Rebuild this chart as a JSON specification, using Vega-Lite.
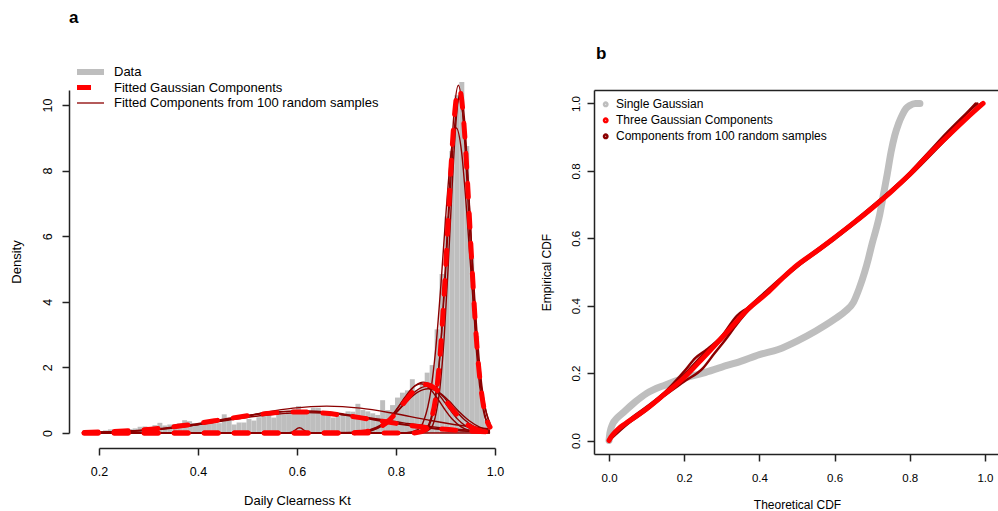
{
"$schema": "https://vega.github.io/schema/vega-lite/v6.json",
"background": "white",
"padding": {"left": 10, "top": 8, "right": 0, "bottom": 0},
"config": {
  "view": {"stroke": null},
  "font": "Liberation Sans",
  "axis": {"grid": false, "domain": true, "domainColor": "#222222", "domainWidth": 1.5, "domainOpacity": 1, "ticks": true, "tickColor": "#222222", "tickWidth": 1.5, "tickOpacity": 1, "labelColor": "#000", "titleColor": "#000", "titleFontWeight": "normal", "tickSize": 7, "labelFlush": false, "labelOverlap": false, "labelBound": false},
  "legend": {"labelColor": "#000", "labelLimit": 0},
  "title": {"color": "#000"}
},
"datasets": {
  "hist": [
    {"x":0.168,"xe":0.178,"y":0.02},{"x":0.178,"xe":0.188,"y":0.03},{"x":0.188,"xe":0.198,"y":0.04},{"x":0.198,"xe":0.208,"y":0.05},
    {"x":0.208,"xe":0.218,"y":0.08},{"x":0.218,"xe":0.228,"y":0.11},{"x":0.228,"xe":0.238,"y":0.07},{"x":0.238,"xe":0.248,"y":0.08},
    {"x":0.248,"xe":0.258,"y":0.10},{"x":0.258,"xe":0.268,"y":0.12},{"x":0.268,"xe":0.278,"y":0.14},{"x":0.278,"xe":0.288,"y":0.19},
    {"x":0.288,"xe":0.298,"y":0.20},{"x":0.298,"xe":0.308,"y":0.16},{"x":0.308,"xe":0.318,"y":0.24},{"x":0.318,"xe":0.328,"y":0.31},
    {"x":0.328,"xe":0.338,"y":0.23},{"x":0.338,"xe":0.348,"y":0.26},{"x":0.348,"xe":0.358,"y":0.27},{"x":0.358,"xe":0.368,"y":0.30},
    {"x":0.368,"xe":0.378,"y":0.39},{"x":0.378,"xe":0.388,"y":0.36},{"x":0.388,"xe":0.398,"y":0.30},{"x":0.398,"xe":0.408,"y":0.27},
    {"x":0.408,"xe":0.418,"y":0.34},{"x":0.418,"xe":0.428,"y":0.37},{"x":0.428,"xe":0.438,"y":0.30},{"x":0.438,"xe":0.448,"y":0.30},
    {"x":0.448,"xe":0.458,"y":0.57},{"x":0.458,"xe":0.468,"y":0.37},{"x":0.468,"xe":0.478,"y":0.26},{"x":0.478,"xe":0.488,"y":0.32},
    {"x":0.488,"xe":0.498,"y":0.32},{"x":0.498,"xe":0.508,"y":0.43},{"x":0.508,"xe":0.518,"y":0.38},{"x":0.518,"xe":0.528,"y":0.48},
    {"x":0.528,"xe":0.538,"y":0.57},{"x":0.538,"xe":0.548,"y":0.54},{"x":0.548,"xe":0.558,"y":0.47},{"x":0.558,"xe":0.568,"y":0.67},
    {"x":0.568,"xe":0.578,"y":0.57},{"x":0.578,"xe":0.588,"y":0.67},{"x":0.588,"xe":0.598,"y":0.72},{"x":0.598,"xe":0.608,"y":0.82},
    {"x":0.608,"xe":0.618,"y":0.67},{"x":0.618,"xe":0.628,"y":0.67},{"x":0.628,"xe":0.638,"y":0.77},{"x":0.638,"xe":0.648,"y":0.77},
    {"x":0.648,"xe":0.658,"y":0.62},{"x":0.658,"xe":0.668,"y":0.67},{"x":0.668,"xe":0.678,"y":0.47},{"x":0.678,"xe":0.688,"y":0.52},
    {"x":0.688,"xe":0.698,"y":0.57},{"x":0.698,"xe":0.708,"y":0.66},{"x":0.708,"xe":0.718,"y":0.65},{"x":0.718,"xe":0.728,"y":0.89},
    {"x":0.728,"xe":0.738,"y":0.70},{"x":0.738,"xe":0.748,"y":0.66},{"x":0.748,"xe":0.758,"y":0.60},{"x":0.758,"xe":0.768,"y":0.55},
    {"x":0.768,"xe":0.778,"y":1.00},{"x":0.778,"xe":0.788,"y":0.70},{"x":0.788,"xe":0.798,"y":0.85},{"x":0.798,"xe":0.808,"y":1.08},
    {"x":0.808,"xe":0.818,"y":1.23},{"x":0.818,"xe":0.828,"y":1.30},{"x":0.828,"xe":0.838,"y":1.64},{"x":0.838,"xe":0.848,"y":1.30},
    {"x":0.848,"xe":0.858,"y":1.50},{"x":0.858,"xe":0.868,"y":1.84},{"x":0.868,"xe":0.878,"y":2.07},{"x":0.878,"xe":0.888,"y":3.16},
    {"x":0.888,"xe":0.898,"y":4.85},{"x":0.898,"xe":0.908,"y":6.60},{"x":0.908,"xe":0.918,"y":8.60},{"x":0.918,"xe":0.928,"y":10.30},
    {"x":0.928,"xe":0.938,"y":10.70},{"x":0.938,"xe":0.948,"y":8.75},{"x":0.948,"xe":0.958,"y":5.34},{"x":0.958,"xe":0.968,"y":2.96},
    {"x":0.968,"xe":0.978,"y":1.20},{"x":0.978,"xe":0.988,"y":0.40}
  ],
  "main": [
    {"c":"c1","x":0.17,"y":0.017},{"c":"c1","x":0.21,"y":0.033},{"c":"c1","x":0.25,"y":0.058},{"c":"c1","x":0.29,"y":0.097},{"c":"c1","x":0.33,"y":0.154},{"c":"c1","x":0.37,"y":0.227},{"c":"c1","x":0.41,"y":0.316},{"c":"c1","x":0.45,"y":0.411},{"c":"c1","x":0.49,"y":0.504},{"c":"c1","x":0.53,"y":0.581},{"c":"c1","x":0.57,"y":0.629},{"c":"c1","x":0.61,"y":0.639},{"c":"c1","x":0.65,"y":0.61},{"c":"c1","x":0.69,"y":0.547},{"c":"c1","x":0.73,"y":0.461},{"c":"c1","x":0.77,"y":0.365},{"c":"c1","x":0.81,"y":0.271},{"c":"c1","x":0.85,"y":0.189},{"c":"c1","x":0.89,"y":0.124},{"c":"c1","x":0.93,"y":0.076},{"c":"c1","x":0.97,"y":0.044},{"c":"c1","x":0.99,"y":0.033},
    {"c":"c2","x":0.17,"y":0},{"c":"c2","x":0.4,"y":0},{"c":"c2","x":0.6,"y":0},{"c":"c2","x":0.68,"y":0.0005},{"c":"c2","x":0.72,"y":0.012},{"c":"c2","x":0.74,"y":0.042},{"c":"c2","x":0.76,"y":0.126},{"c":"c2","x":0.78,"y":0.304},{"c":"c2","x":0.8,"y":0.61},{"c":"c2","x":0.82,"y":0.996},{"c":"c2","x":0.84,"y":1.344},{"c":"c2","x":0.86,"y":1.48},{"c":"c2","x":0.88,"y":1.344},{"c":"c2","x":0.9,"y":0.996},{"c":"c2","x":0.92,"y":0.61},{"c":"c2","x":0.94,"y":0.304},{"c":"c2","x":0.96,"y":0.126},{"c":"c2","x":0.98,"y":0.042},{"c":"c2","x":0.99,"y":0.023},
    {"c":"c3","x":0.17,"y":0},{"c":"c3","x":0.6,"y":0},{"c":"c3","x":0.8,"y":0},{"c":"c3","x":0.84,"y":0.004},{"c":"c3","x":0.86,"y":0.1},{"c":"c3","x":0.87,"y":0.37},{"c":"c3","x":0.88,"y":1.06},{"c":"c3","x":0.89,"y":2.56},{"c":"c3","x":0.895,"y":3.67},{"c":"c3","x":0.9,"y":4.94},{"c":"c3","x":0.905,"y":6.37},{"c":"c3","x":0.91,"y":7.8},{"c":"c3","x":0.915,"y":9.05},{"c":"c3","x":0.92,"y":9.98},{"c":"c3","x":0.925,"y":10.46},{"c":"c3","x":0.93,"y":10.4},{"c":"c3","x":0.935,"y":9.83},{"c":"c3","x":0.94,"y":8.82},{"c":"c3","x":0.945,"y":7.51},{"c":"c3","x":0.95,"y":6.08},{"c":"c3","x":0.955,"y":4.69},{"c":"c3","x":0.96,"y":3.41},{"c":"c3","x":0.965,"y":2.35},{"c":"c3","x":0.97,"y":1.57},{"c":"c3","x":0.98,"y":0.58},{"c":"c3","x":0.99,"y":0.18}
  ],
  "thin": [
    {"c":"A","x":0.17,"y":0.009},{"c":"A","x":0.235,"y":0.03},{"c":"A","x":0.31,"y":0.092},{"c":"A","x":0.37,"y":0.189},{"c":"A","x":0.43,"y":0.331},{"c":"A","x":0.49,"y":0.494},{"c":"A","x":0.55,"y":0.628},{"c":"A","x":0.61,"y":0.68},{"c":"A","x":0.67,"y":0.628},{"c":"A","x":0.73,"y":0.494},{"c":"A","x":0.79,"y":0.331},{"c":"A","x":0.85,"y":0.189},{"c":"A","x":0.91,"y":0.092},{"c":"A","x":0.985,"y":0.03},{"c":"A","x":0.99,"y":0.028},
    {"c":"B","x":0.17,"y":0.015},{"c":"B","x":0.2075,"y":0.027},{"c":"B","x":0.29,"y":0.084},{"c":"B","x":0.356,"y":0.172},{"c":"B","x":0.422,"y":0.302},{"c":"B","x":0.488,"y":0.45},{"c":"B","x":0.554,"y":0.572},{"c":"B","x":0.62,"y":0.62},{"c":"B","x":0.686,"y":0.572},{"c":"B","x":0.752,"y":0.45},{"c":"B","x":0.818,"y":0.302},{"c":"B","x":0.884,"y":0.172},{"c":"B","x":0.95,"y":0.084},{"c":"B","x":0.99,"y":0.05},
    {"c":"C","x":0.17,"y":0.014},{"c":"C","x":0.2125,"y":0.029},{"c":"C","x":0.29,"y":0.089},{"c":"C","x":0.352,"y":0.183},{"c":"C","x":0.414,"y":0.321},{"c":"C","x":0.476,"y":0.479},{"c":"C","x":0.538,"y":0.609},{"c":"C","x":0.6,"y":0.66},{"c":"C","x":0.662,"y":0.609},{"c":"C","x":0.724,"y":0.479},{"c":"C","x":0.786,"y":0.321},{"c":"C","x":0.848,"y":0.183},{"c":"C","x":0.91,"y":0.089},{"c":"C","x":0.9875,"y":0.029},{"c":"C","x":0.99,"y":0.028},
    {"c":"D","x":0.17,"y":0.013},{"c":"D","x":0.235,"y":0.036},{"c":"D","x":0.32,"y":0.111},{"c":"D","x":0.388,"y":0.228},{"c":"D","x":0.456,"y":0.399},{"c":"D","x":0.524,"y":0.595},{"c":"D","x":0.592,"y":0.757},{"c":"D","x":0.66,"y":0.82},{"c":"D","x":0.728,"y":0.757},{"c":"D","x":0.796,"y":0.595},{"c":"D","x":0.864,"y":0.399},{"c":"D","x":0.932,"y":0.228},{"c":"D","x":0.99,"y":0.125},
    {"c":"F","x":0.17,"y":0},{"c":"F","x":0.65,"y":0},{"c":"F","x":0.726,"y":0.017},{"c":"F","x":0.7475,"y":0.068},{"c":"F","x":0.769,"y":0.209},{"c":"F","x":0.786,"y":0.431},{"c":"F","x":0.803,"y":0.755},{"c":"F","x":0.821,"y":1.125},{"c":"F","x":0.838,"y":1.431},{"c":"F","x":0.855,"y":1.55},{"c":"F","x":0.872,"y":1.431},{"c":"F","x":0.889,"y":1.125},{"c":"F","x":0.907,"y":0.755},{"c":"F","x":0.924,"y":0.431},{"c":"F","x":0.941,"y":0.209},{"c":"F","x":0.9625,"y":0.068},{"c":"F","x":0.984,"y":0.017},{"c":"F","x":0.99,"y":0.012},
    {"c":"G","x":0.17,"y":0},{"c":"G","x":0.65,"y":0},{"c":"G","x":0.718,"y":0.016},{"c":"G","x":0.742,"y":0.062},{"c":"G","x":0.766,"y":0.192},{"c":"G","x":0.785,"y":0.395},{"c":"G","x":0.804,"y":0.692},{"c":"G","x":0.824,"y":1.031},{"c":"G","x":0.843,"y":1.311},{"c":"G","x":0.862,"y":1.42},{"c":"G","x":0.881,"y":1.311},{"c":"G","x":0.9,"y":1.031},{"c":"G","x":0.92,"y":0.692},{"c":"G","x":0.939,"y":0.395},{"c":"G","x":0.958,"y":0.192},{"c":"G","x":0.982,"y":0.062},{"c":"G","x":0.99,"y":0.041},
    {"c":"H","x":0.17,"y":0},{"c":"H","x":0.65,"y":0},{"c":"H","x":0.73,"y":0.017},{"c":"H","x":0.75,"y":0.066},{"c":"H","x":0.77,"y":0.203},{"c":"H","x":0.786,"y":0.417},{"c":"H","x":0.802,"y":0.731},{"c":"H","x":0.818,"y":1.089},{"c":"H","x":0.834,"y":1.385},{"c":"H","x":0.85,"y":1.5},{"c":"H","x":0.866,"y":1.385},{"c":"H","x":0.882,"y":1.089},{"c":"H","x":0.898,"y":0.731},{"c":"H","x":0.914,"y":0.417},{"c":"H","x":0.93,"y":0.203},{"c":"H","x":0.95,"y":0.066},{"c":"H","x":0.97,"y":0.017},{"c":"H","x":0.99,"y":0.003},
    {"c":"I","x":0.17,"y":0},{"c":"I","x":0.62,"y":0},{"c":"I","x":0.709,"y":0.015},{"c":"I","x":0.735,"y":0.059},{"c":"I","x":0.761,"y":0.182},{"c":"I","x":0.782,"y":0.375},{"c":"I","x":0.803,"y":0.657},{"c":"I","x":0.823,"y":0.98},{"c":"I","x":0.844,"y":1.246},{"c":"I","x":0.865,"y":1.35},{"c":"I","x":0.886,"y":1.246},{"c":"I","x":0.907,"y":0.98},{"c":"I","x":0.927,"y":0.657},{"c":"I","x":0.948,"y":0.375},{"c":"I","x":0.969,"y":0.182},{"c":"I","x":0.99,"y":0.075},
    {"c":"J","x":0.17,"y":0},{"c":"J","x":0.8,"y":0},{"c":"J","x":0.84,"y":0.003},{"c":"J","x":0.8615,"y":0.117},{"c":"J","x":0.8723,"y":0.466},{"c":"J","x":0.883,"y":1.431},{"c":"J","x":0.8916,"y":2.947},{"c":"J","x":0.9002,"y":5.162},{"c":"J","x":0.9088,"y":7.696},{"c":"J","x":0.9174,"y":9.784},{"c":"J","x":0.926,"y":10.6},{"c":"J","x":0.9346,"y":9.784},{"c":"J","x":0.9432,"y":7.696},{"c":"J","x":0.9518,"y":5.162},{"c":"J","x":0.9604,"y":2.947},{"c":"J","x":0.969,"y":1.431},{"c":"J","x":0.9798,"y":0.466},{"c":"J","x":0.99,"y":0.13},
    {"c":"K","x":0.17,"y":0},{"c":"K","x":0.8,"y":0},{"c":"K","x":0.836,"y":0.003},{"c":"K","x":0.859,"y":0.112},{"c":"K","x":0.8705,"y":0.449},{"c":"K","x":0.882,"y":1.377},{"c":"K","x":0.8912,"y":2.836},{"c":"K","x":0.9004,"y":4.967},{"c":"K","x":0.9096,"y":7.405},{"c":"K","x":0.9188,"y":9.415},{"c":"K","x":0.928,"y":10.2},{"c":"K","x":0.9372,"y":9.415},{"c":"K","x":0.9464,"y":7.405},{"c":"K","x":0.9556,"y":4.967},{"c":"K","x":0.9648,"y":2.836},{"c":"K","x":0.974,"y":1.377},{"c":"K","x":0.9855,"y":0.449},{"c":"K","x":0.99,"y":0.27},
    {"c":"L","x":0.17,"y":0},{"c":"L","x":0.78,"y":0},{"c":"L","x":0.818,"y":0.003},{"c":"L","x":0.844,"y":0.102},{"c":"L","x":0.857,"y":0.409},{"c":"L","x":0.87,"y":1.256},{"c":"L","x":0.8804,"y":2.585},{"c":"L","x":0.8908,"y":4.529},{"c":"L","x":0.9012,"y":6.752},{"c":"L","x":0.9116,"y":8.584},{"c":"L","x":0.922,"y":9.3},{"c":"L","x":0.9324,"y":8.584},{"c":"L","x":0.9428,"y":6.752},{"c":"L","x":0.9532,"y":4.529},{"c":"L","x":0.9636,"y":2.585},{"c":"L","x":0.974,"y":1.256},{"c":"L","x":0.987,"y":0.409},{"c":"L","x":0.99,"y":0.31},
    {"c":"M","x":0.17,"y":0},{"c":"M","x":0.8,"y":0},{"c":"M","x":0.848,"y":0.003},{"c":"M","x":0.8685,"y":0.114},{"c":"M","x":0.8788,"y":0.458},{"c":"M","x":0.889,"y":1.404},{"c":"M","x":0.8972,"y":2.891},{"c":"M","x":0.9054,"y":5.065},{"c":"M","x":0.9136,"y":7.55},{"c":"M","x":0.9218,"y":9.599},{"c":"M","x":0.93,"y":10.4},{"c":"M","x":0.9382,"y":9.599},{"c":"M","x":0.9464,"y":7.55},{"c":"M","x":0.9546,"y":5.065},{"c":"M","x":0.9628,"y":2.891},{"c":"M","x":0.971,"y":1.404},{"c":"M","x":0.9813,"y":0.458},{"c":"M","x":0.99,"y":0.14},
    {"c":"N","x":0.17,"y":0},{"c":"N","x":0.58,"y":0},{"c":"N","x":0.589,"y":0.022},{"c":"N","x":0.5954,"y":0.078},{"c":"N","x":0.6018,"y":0.148},{"c":"N","x":0.605,"y":0.16},{"c":"N","x":0.6082,"y":0.148},{"c":"N","x":0.6146,"y":0.078},{"c":"N","x":0.621,"y":0.022},{"c":"N","x":0.63,"y":0},{"c":"N","x":0.99,"y":0}
  ],
  "gray": [
    {"x":0,"y":0},{"x":0.002,"y":0.02},{"x":0.005,"y":0.035},{"x":0.01,"y":0.05},{"x":0.02,"y":0.065},{"x":0.04,"y":0.085},{"x":0.07,"y":0.115},{"x":0.1,"y":0.14},{"x":0.15,"y":0.165},{"x":0.2,"y":0.185},{"x":0.25,"y":0.2},{"x":0.3,"y":0.218},{"x":0.35,"y":0.235},{"x":0.4,"y":0.255},{"x":0.45,"y":0.27},{"x":0.5,"y":0.295},{"x":0.55,"y":0.325},{"x":0.6,"y":0.36},{"x":0.63,"y":0.385},{"x":0.65,"y":0.41},{"x":0.665,"y":0.45},{"x":0.68,"y":0.5},{"x":0.69,"y":0.54},{"x":0.7,"y":0.585},{"x":0.71,"y":0.625},{"x":0.72,"y":0.67},{"x":0.73,"y":0.73},{"x":0.74,"y":0.79},{"x":0.75,"y":0.855},{"x":0.76,"y":0.905},{"x":0.77,"y":0.94},{"x":0.78,"y":0.966},{"x":0.79,"y":0.985},{"x":0.8,"y":0.994},{"x":0.815,"y":1.0},{"x":0.827,"y":1.0}
  ],
  "red": [
    {"x":0,"y":0},{"x":0.005,"y":0.01},{"x":0.012,"y":0.02},{"x":0.025,"y":0.035},{"x":0.043,"y":0.05},{"x":0.07,"y":0.07},{"x":0.1,"y":0.094},{"x":0.15,"y":0.14},{"x":0.2,"y":0.187},{"x":0.25,"y":0.245},{"x":0.3,"y":0.305},{"x":0.33,"y":0.342},{"x":0.37,"y":0.39},{"x":0.42,"y":0.437},{"x":0.46,"y":0.48},{"x":0.5,"y":0.52},{"x":0.55,"y":0.56},{"x":0.6,"y":0.602},{"x":0.65,"y":0.645},{"x":0.7,"y":0.69},{"x":0.75,"y":0.738},{"x":0.8,"y":0.79},{"x":0.85,"y":0.848},{"x":0.9,"y":0.902},{"x":0.95,"y":0.955},{"x":0.995,"y":1.0}
  ],
  "dred": [
    {"c":"V1","x":0,"y":0},{"c":"V1","x":0.05,"y":0.058},{"c":"V1","x":0.1,"y":0.1},{"c":"V1","x":0.15,"y":0.145},{"c":"V1","x":0.2,"y":0.205},{"c":"V1","x":0.23,"y":0.245},{"c":"V1","x":0.26,"y":0.27},{"c":"V1","x":0.3,"y":0.31},{"c":"V1","x":0.34,"y":0.37},{"c":"V1","x":0.37,"y":0.395},{"c":"V1","x":0.4,"y":0.425},{"c":"V1","x":0.45,"y":0.475},{"c":"V1","x":0.5,"y":0.522},{"c":"V1","x":0.6,"y":0.605},{"c":"V1","x":0.7,"y":0.695},{"c":"V1","x":0.8,"y":0.795},{"c":"V1","x":0.85,"y":0.855},{"c":"V1","x":0.9,"y":0.915},{"c":"V1","x":0.95,"y":0.97},{"c":"V1","x":0.98,"y":1.0},
    {"c":"V2","x":0,"y":0},{"c":"V2","x":0.05,"y":0.05},{"c":"V2","x":0.1,"y":0.09},{"c":"V2","x":0.15,"y":0.135},{"c":"V2","x":0.2,"y":0.175},{"c":"V2","x":0.25,"y":0.215},{"c":"V2","x":0.28,"y":0.258},{"c":"V2","x":0.31,"y":0.3},{"c":"V2","x":0.34,"y":0.345},{"c":"V2","x":0.37,"y":0.385},{"c":"V2","x":0.4,"y":0.418},{"c":"V2","x":0.5,"y":0.515},{"c":"V2","x":0.6,"y":0.597},{"c":"V2","x":0.7,"y":0.687},{"c":"V2","x":0.8,"y":0.785},{"c":"V2","x":0.9,"y":0.898},{"c":"V2","x":0.99,"y":1.0},
    {"c":"V3","x":0,"y":0},{"c":"V3","x":0.03,"y":0.037},{"c":"V3","x":0.1,"y":0.096},{"c":"V3","x":0.2,"y":0.195},{"c":"V3","x":0.25,"y":0.255},{"c":"V3","x":0.3,"y":0.3},{"c":"V3","x":0.35,"y":0.365},{"c":"V3","x":0.4,"y":0.42},{"c":"V3","x":0.5,"y":0.518},{"c":"V3","x":0.6,"y":0.6},{"c":"V3","x":0.7,"y":0.692},{"c":"V3","x":0.8,"y":0.793},{"c":"V3","x":0.88,"y":0.885},{"c":"V3","x":0.93,"y":0.945},{"c":"V3","x":0.975,"y":1.0}
  ]
},
"bounds": "flush",
"spacing": 99,
"resolve": {"scale": {"x": "independent", "y": "independent", "color": "independent"}, "legend": {"color": "independent"}},
"hconcat": [
  {
    "width": 396, "height": 343,
    "title": {"text": "a", "anchor": "start", "frame": "group", "fontSize": 17, "fontWeight": "bold", "baseline": "alphabetic", "offset": 40, "dx": -30},
    "encoding": {
      "x": {"field": "x", "type": "quantitative", "scale": {"domain": [0.2, 1.0], "nice": false, "zero": false},
            "axis": {"values": [0.2, 0.4, 0.6, 0.8, 1.0], "format": ".1f", "offset": 15, "labelFontSize": 12.5, "titleFontSize": 13, "labelPadding": 10, "titlePadding": 17, "title": "Daily Clearness Kt"}},
      "y": {"field": "y", "type": "quantitative", "scale": {"domain": [0, 10.457], "nice": false, "zero": false},
            "axis": {"values": [0, 2, 4, 6, 8, 10], "offset": 30, "labelAngle": 270, "labelAlign": "center", "labelBaseline": "bottom", "labelFontSize": 12.5, "titleFontSize": 13, "labelPadding": 8, "titlePadding": 18, "title": "Density"}}
    },
    "layer": [
      {"data": {"name": "hist"},
       "mark": {"type": "bar"},
       "encoding": {"x2": {"field": "xe"}, "y2": {"datum": 0},
         "fill": {"datum": "Data", "type": "nominal",
           "scale": {"domain": ["Data"], "range": ["#bebebe"]},
           "legend": {"title": null, "orient": "none", "legendX": -15, "legendY": -24.5, "symbolType": "M-6.75,0H6.75", "symbolSize": 16, "symbolStrokeColor": "#bebebe", "symbolStrokeWidth": 6, "labelFontSize": 13, "labelOffset": 17, "labelLimit": 0}}}},
      {"data": {"name": "thin"},
       "mark": {"type": "line", "strokeWidth": 1.4, "interpolate": "monotone"},
       "encoding": {"detail": {"field": "c"},
         "stroke": {"datum": "Fitted Components from 100 random samples", "type": "nominal",
           "scale": {"domain": ["Fitted Components from 100 random samples"], "range": ["#8b0000"]},
           "legend": {"title": null, "orient": "none", "legendX": -15, "legendY": 6.5, "symbolType": "M-6.75,0H6.75", "symbolSize": 16, "symbolStrokeWidth": 1.3, "labelFontSize": 13, "labelOffset": 17, "labelLimit": 0}}}},
      {"data": {"name": "main"},
       "mark": {"type": "line", "strokeWidth": 5, "strokeDash": [14, 16], "strokeCap": "round", "interpolate": "monotone"},
       "encoding": {"detail": {"field": "c"},
         "color": {"datum": "Fitted Gaussian Components", "type": "nominal",
           "scale": {"domain": ["Fitted Gaussian Components"], "range": ["#ff0000"]},
           "legend": {"title": null, "orient": "none", "legendX": -15, "legendY": -9, "symbolType": "M-6.75,0H6.75", "symbolSize": 16, "symbolStrokeWidth": 5, "symbolDash": [14, 30], "labelFontSize": 13, "labelOffset": 17, "labelLimit": 0}}}}
    ]
  },
  {
    "width": 406, "height": 364,
    "resolve": {"axis": {"x": "independent"}},
    "title": {"text": "b", "anchor": "start", "frame": "group", "fontSize": 17, "fontWeight": "bold", "baseline": "alphabetic", "offset": 14, "dx": 2},
    "layer": [
      {"data": {"name": "gray"},
       "mark": {"type": "line", "strokeWidth": 7, "strokeCap": "round", "strokeJoin": "round", "interpolate": "monotone"},
       "encoding": {
         "x": {"field": "x", "type": "quantitative", "scale": {"domain": [-0.04, 1.04], "nice": false, "zero": false},
               "axis": {"values": [0, 0.2, 0.4, 0.6, 0.8, 1.0], "format": ".1f", "labelFontSize": 11.5, "titleFontSize": 12, "labelPadding": 11, "titlePadding": 16, "title": "Theoretical CDF"}},
         "y": {"field": "y", "type": "quantitative", "scale": {"domain": [-0.04, 1.04], "nice": false, "zero": false},
               "axis": {"values": [0, 0.2, 0.4, 0.6, 0.8, 1.0], "format": ".1f", "labelAngle": 270, "labelAlign": "center", "labelBaseline": "bottom", "labelFontSize": 11.5, "titleFontSize": 12, "labelPadding": 6, "titlePadding": 17, "title": "Empirical CDF"}},
         "color": {"datum": "Single Gaussian", "type": "nominal",
           "scale": {"domain": ["Single Gaussian", "Three Gaussian Components", "Components from 100 random samples"], "range": ["#bebebe", "#ff0000", "#8b0000"]},
           "legend": {"title": null, "orient": "none", "legendX": 5.7, "legendY": 8.3, "symbolType": "circle", "symbolSize": 12, "symbolStrokeWidth": 2.5, "labelFontSize": 12, "labelOffset": 4.3, "rowPadding": 2, "labelLimit": 0}}}},
      {"data": {"name": "dred"},
       "mark": {"type": "line", "strokeWidth": 2.5, "strokeCap": "round", "interpolate": "monotone"},
       "encoding": {
         "x": {"field": "x", "type": "quantitative", "axis": null},
         "y": {"field": "y", "type": "quantitative"},
         "detail": {"field": "c"}, "color": {"datum": "Components from 100 random samples", "type": "nominal"}}},
      {"data": {"name": "red"},
       "mark": {"type": "line", "strokeWidth": 5, "strokeCap": "round", "strokeJoin": "round", "interpolate": "monotone"},
       "encoding": {
         "x": {"field": "x", "type": "quantitative", "axis": {"orient": "top", "labels": false, "ticks": false, "domain": true, "title": null, "grid": false}},
         "y": {"field": "y", "type": "quantitative"},
         "color": {"datum": "Three Gaussian Components", "type": "nominal"}}}
    ]
  }
]
}
